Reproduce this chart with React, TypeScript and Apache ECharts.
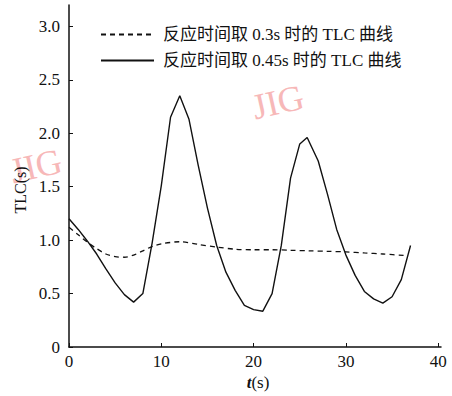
import React, { useEffect, useRef } from "react";
import * as echarts from "echarts";

const seriesNames = ["反应时间取 0.3s 时的 TLC 曲线", "反应时间取 0.45s 时的 TLC 曲线"];

const dashedT = [0, 1, 2, 3, 4, 5, 6, 7, 8, 9, 10, 12, 14, 16, 18, 20, 22, 24, 26, 28, 30, 32, 34, 36.5];
const dashedV = [1.12, 1.05, 0.98, 0.92, 0.87, 0.845, 0.84, 0.86, 0.9, 0.94, 0.965, 0.985, 0.96, 0.935, 0.915, 0.91, 0.91, 0.905, 0.9, 0.895, 0.89, 0.88, 0.87, 0.855];

const solidT = [0, 1, 2, 3, 4, 5, 6, 7, 8, 9, 10, 11, 12, 13, 14, 15, 16, 17, 18, 19, 20, 21, 22, 23, 24, 25, 25.8, 27, 28, 29, 30, 31, 32, 33, 34, 35, 36, 37];
const solidV = [1.2, 1.1, 0.99, 0.87, 0.73, 0.6, 0.49, 0.42, 0.5, 0.97, 1.51, 2.15, 2.35, 2.13, 1.7, 1.3, 0.95, 0.7, 0.53, 0.39, 0.35, 0.335, 0.5, 0.95, 1.58, 1.9, 1.96, 1.74, 1.43, 1.1, 0.86, 0.67, 0.52, 0.45, 0.41, 0.47, 0.63, 0.95];

const xTicks = [0, 10, 20, 30, 40];
const yTicks = [0, 0.5, 1.0, 1.5, 2.0, 2.5, 3.0];

const FONT = "'Liberation Serif', 'Noto Sans CJK SC', serif";

export default function App() {
  const ref = useRef<HTMLDivElement>(null);
  useEffect(() => {
    if (!ref.current) return;
    const chart = echarts.init(ref.current, null, { renderer: "svg" });
    const zip = (t: number[], v: number[]) => t.map((x, i) => [x, v[i]]);
    chart.setOption({
      animation: false,
      backgroundColor: "#fff",
      color: ["#111", "#111"],
      grid: { left: 69, right: 11, top: 5, bottom: 49, containLabel: false },
      legend: {
        orient: "vertical",
        left: 95,
        top: 21,
        itemWidth: 53,
        itemHeight: 16,
        itemGap: 9,
        data: seriesNames,
        itemStyle: { opacity: 0 },
        textStyle: { fontFamily: FONT, fontSize: 17, color: "#111", padding: [0, 0, 0, 4] },
      },
      xAxis: {
        type: "value",
        min: 0,
        max: 40.3,
        interval: 10,
        splitLine: { show: false },
        axisLine: { lineStyle: { color: "#111", width: 1.5 } },
        axisTick: { inside: true, length: 4, lineStyle: { color: "#111" }, customValues: xTicks },
        axisLabel: { customValues: xTicks, fontFamily: FONT, fontSize: 17, color: "#111", margin: 6 },
      },
      yAxis: {
        type: "value",
        min: 0,
        max: 3.2,
        interval: 0.5,
        splitLine: { show: false },
        axisLine: { lineStyle: { color: "#111", width: 1.5 } },
        axisTick: { inside: true, length: 4, lineStyle: { color: "#111" }, customValues: yTicks },
        axisLabel: {
          customValues: yTicks,
          fontFamily: FONT,
          fontSize: 17,
          color: "#111",
          margin: 9,
          formatter: (v: number) => (v === 0 ? "0" : v.toFixed(1)),
        },
      },
      graphic: [
        {
          type: "text",
          x: 278,
          y: 102,
          rotation: 0.22,
          style: { text: "JIG", fill: "#f7b8b8", font: "36px 'Liberation Serif', serif", align: "center", verticalAlign: "middle" },
          z: -1,
        },
        {
          type: "text",
          x: 36,
          y: 166,
          rotation: 0.22,
          style: { text: "JIG", fill: "#f7b8b8", font: "36px 'Liberation Serif', serif", align: "center", verticalAlign: "middle" },
          z: -1,
        },
        {
          type: "text",
          x: 20,
          y: 190,
          rotation: Math.PI / 2,
          style: { text: "TLC(s)", fill: "#111", font: "16px 'Liberation Serif', serif", align: "center", verticalAlign: "middle" },
        },
        {
          type: "text",
          x: 258,
          y: 382,
          style: {
            text: "{i|t}(s)",
            fill: "#111",
            font: "17px 'Liberation Serif', serif",
            align: "center",
            verticalAlign: "middle",
            rich: { i: { fontStyle: "italic", fontWeight: "bold", fontSize: 17, fontFamily: FONT } },
          },
        },
      ],
      series: [
        {
          name: seriesNames[0],
          type: "line",
          data: zip(dashedT, dashedV),
          smooth: 0.3,
          symbol: "none",
          itemStyle: { color: "#111" },
          lineStyle: { color: "#111", width: 1.3, type: [5, 4] },
        },
        {
          name: seriesNames[1],
          type: "line",
          data: zip(solidT, solidV),
          smooth: false,
          symbol: "none",
          itemStyle: { color: "#111" },
          lineStyle: { color: "#111", width: 1.4 },
        },
      ],
    });
    return () => chart.dispose();
  }, []);
  return <div ref={ref} style={{ width: 452, height: 396, position: "absolute", left: 0, top: 0 }} />;
}
